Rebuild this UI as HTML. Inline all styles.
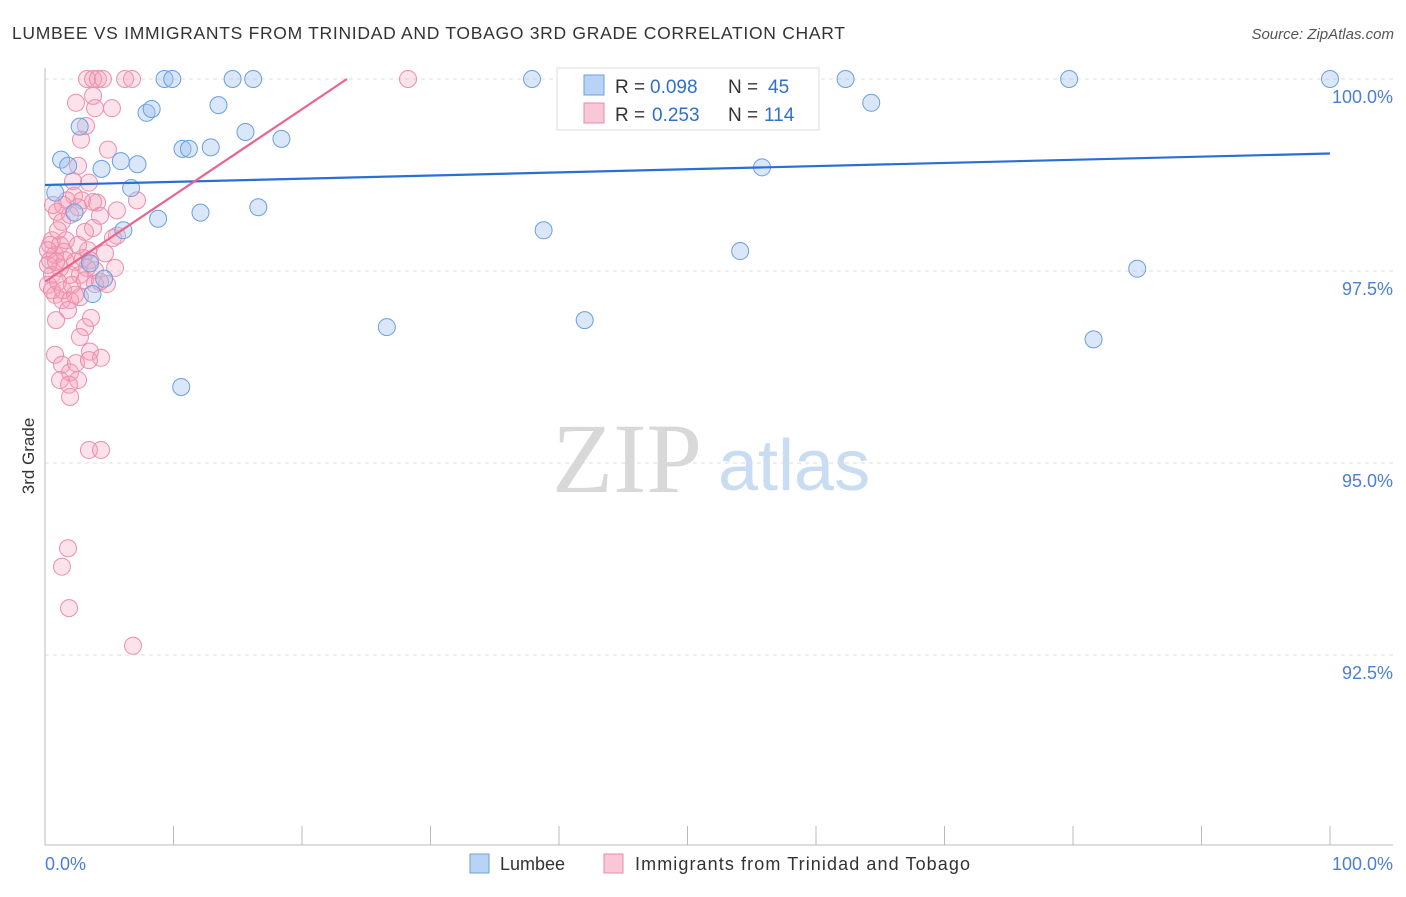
<!DOCTYPE html>
<html><head><meta charset="utf-8"><style>
body{margin:0;background:#fff;font-family:"Liberation Sans",sans-serif;}
</style></head><body>
<svg width="1406" height="892" xmlns="http://www.w3.org/2000/svg" font-family="Liberation Sans, sans-serif">
<text x="12" y="39" font-size="17.5" fill="#333" textLength="833" lengthAdjust="spacing">LUMBEE VS IMMIGRANTS FROM TRINIDAD AND TOBAGO 3RD GRADE CORRELATION CHART</text>
<text x="1394" y="39" font-size="15" fill="#555" font-style="italic" text-anchor="end">Source: ZipAtlas.com</text>
<g>
<text x="552" y="492" font-size="100" fill="#d8d8d8" font-family="Liberation Serif, serif">ZIP</text>
<text x="718" y="490" font-size="72" fill="#c8dcf2">atlas</text>
</g>
<g id="grid"></g>
<g id="axes"></g>
<g id="pts"></g>
<g id="trends"></g>
<text transform="translate(34,456) rotate(-90)" font-size="17" fill="#333" text-anchor="middle">3rd Grade</text>
<g>
<rect x="557" y="68" width="262" height="62" fill="#fff" stroke="#ddd"/>
<rect x="584" y="75" width="20" height="20" fill="#b9d3f5" stroke="#6a9fe0"/>
<rect x="584" y="103" width="20" height="20" fill="#f9c8d6" stroke="#e98aa8"/>
<text x="615" y="93" font-size="19" fill="#333">R =</text>
<text x="650" y="93" font-size="19" fill="#2f6fd0">0.098</text>
<text x="728" y="93" font-size="19" fill="#333">N =</text>
<text x="768" y="93" font-size="19" fill="#2f6fd0">45</text>
<text x="615" y="121" font-size="19" fill="#333">R =</text>
<text x="652" y="121" font-size="19" fill="#2f6fd0">0.253</text>
<text x="728" y="121" font-size="19" fill="#333">N =</text>
<text x="764" y="121" font-size="19" fill="#2f6fd0">114</text>
</g>
<g>
<rect x="470" y="854" width="19" height="19" fill="#b9d3f5" stroke="#6a9fe0"/>
<text x="500" y="870" font-size="18" fill="#333">Lumbee</text>
<rect x="604" y="854" width="19" height="19" fill="#f9c8d6" stroke="#e98aa8"/>
<text x="635" y="870" font-size="18" fill="#333" textLength="335">Immigrants from Trinidad and Tobago</text>
</g>
</svg>
<script>
const yTicks=[100,97.5,95,92.5];
const yTickLabels=["100.0%","97.5%","95.0%","92.5%"];
const xTickLabels=["0.0%","100.0%"];
const blueX=[0.8,1.25,1.8,2.3,2.7,3.5,3.7,4.4,4.6,5.9,6.1,6.7,7.2,7.9,8.3,8.8,9.3,9.9,10.6,10.7,11.2,12.1,12.9,13.5,14.6,15.6,16.2,16.6,18.4,26.6,37.9,38.8,42.0,54.1,55.8,62.3,64.3,79.7,81.6,85.0,100];
const blueY=[98.52,98.95,98.87,98.26,99.38,97.6,97.2,98.83,97.4,98.93,98.03,98.58,98.89,99.56,99.61,98.18,100,100,95.99,99.09,99.09,98.26,99.11,99.66,100,99.31,100,98.33,99.22,96.77,100,98.03,96.86,97.76,98.85,100,99.69,100,96.61,97.53,100];
const pinkX=[3.27,3.74,4.12,4.51,6.23,6.77,28.25,3.74,2.41,3.89,5.21,3.19,2.80,4.90,2.57,3.42,2.18,2.26,2.88,4.05,1.71,0.93,1.32,2.57,4.28,5.60,7.16,3.11,3.74,5.60,4.67,5.45,4.82,3.89,2.72,1.95,1.17,0.78,0.39,0.39,0.54,0.23,0.78,1.32,1.95,1.17,1.56,2.33,2.96,3.35,3.50,3.89,0.86,1.79,2.72,3.11,3.58,2.72,3.50,0.78,1.32,1.95,2.57,1.17,1.87,2.41,4.36,3.42,1.95,3.42,4.36,1.79,1.32,1.87,6.85,0.54,0.23,0.23,0.54,1.01,1.40,2.10,2.33,1.48,0.86,1.63,3.11,4.28,3.27,2.57,5.29,1.01,3.74,1.95,1.40,0.62];
const pinkY=[100,100,100,100,100,100,100,99.78,99.69,99.62,99.62,99.39,99.21,99.08,98.87,98.65,98.67,98.48,98.42,98.39,98.42,98.27,98.14,98.33,98.22,98.29,98.42,98.01,98.06,97.96,97.73,97.54,97.33,97.51,97.45,97.45,97.54,97.71,97.84,97.64,97.45,97.32,97.19,97.12,97.12,97.84,97.64,97.62,97.67,97.77,97.64,97.33,96.86,96.99,97.16,96.77,96.89,96.64,96.45,96.41,96.28,96.18,96.08,96.08,96.02,96.30,96.37,96.34,95.86,95.17,95.17,93.89,93.65,93.11,92.62,97.90,97.77,97.58,97.25,97.36,97.25,97.32,97.19,97.75,97.62,97.90,97.38,97.36,97.54,97.84,97.93,98.03,98.40,98.23,98.36,98.36];
const blueTrend=[[0,98.62],[100,99.03]];
const pinkTrend=[[0,97.36],[23.5,100]];
const NS="http://www.w3.org/2000/svg";
const X=v=>45+v*12.85;
const Y=v=>79+(100-v)*76.8;
function mk(t,a,p){const e=document.createElementNS(NS,t);for(const k in a)e.setAttribute(k,a[k]);p.appendChild(e);return e;}
const grid=document.getElementById('grid'),axes=document.getElementById('axes'),pts=document.getElementById('pts'),tr=document.getElementById('trends');
yTicks.forEach((t,i)=>{
const l=mk('line',{x1:45,x2:1393,y1:Y(t),y2:Y(t),stroke:'#ddd','stroke-dasharray':'4,4'},grid);


const tx=mk('text',{x:1393,y:Y(t)+24,'font-size':18,fill:'#4a7fd6','text-anchor':'end'},axes);
tx.textContent=yTickLabels[i];


});
const al=mk('line',{x1:45,x2:45,y1:68,y2:845,stroke:'#bbb'},axes);


const bl=mk('line',{x1:45,x2:1393,y1:845,y2:845,stroke:'#bbb'},axes);


for(let i=0;i<=10;i++){const tk=mk('line',{x1:X(i*10),x2:X(i*10),y1:826,y2:845,stroke:'#bbb'},axes);

}
const xl0=mk('text',{x:45,y:870,'font-size':18,fill:'#4a7fd6'},axes);xl0.textContent=xTickLabels[0];


const xl1=mk('text',{x:1393,y:870,'font-size':18,fill:'#4a7fd6','text-anchor':'end'},axes);xl1.textContent=xTickLabels[1];


pinkX.forEach((x,i)=>{const c=mk('circle',{cx:X(x),cy:Y(pinkY[i]),r:8.5,fill:'rgba(244,160,185,0.3)',stroke:'#ea8fad','stroke-width':1},pts);

});
blueX.forEach((x,i)=>{const c=mk('circle',{cx:X(x),cy:Y(blueY[i]),r:8.5,fill:'rgba(160,196,240,0.4)',stroke:'#6a9fe0','stroke-width':1},pts);

});
const t1=mk('line',{x1:X(blueTrend[0][0]),y1:Y(blueTrend[0][1]),x2:X(blueTrend[1][0]),y2:Y(blueTrend[1][1]),stroke:'#2a6fd4','stroke-width':2.2},tr);


const t2=mk('line',{x1:X(pinkTrend[0][0]),y1:Y(pinkTrend[0][1]),x2:X(pinkTrend[1][0]),y2:Y(pinkTrend[1][1]),stroke:'#e8658f','stroke-width':2.2},tr);


</script>
</body></html>
